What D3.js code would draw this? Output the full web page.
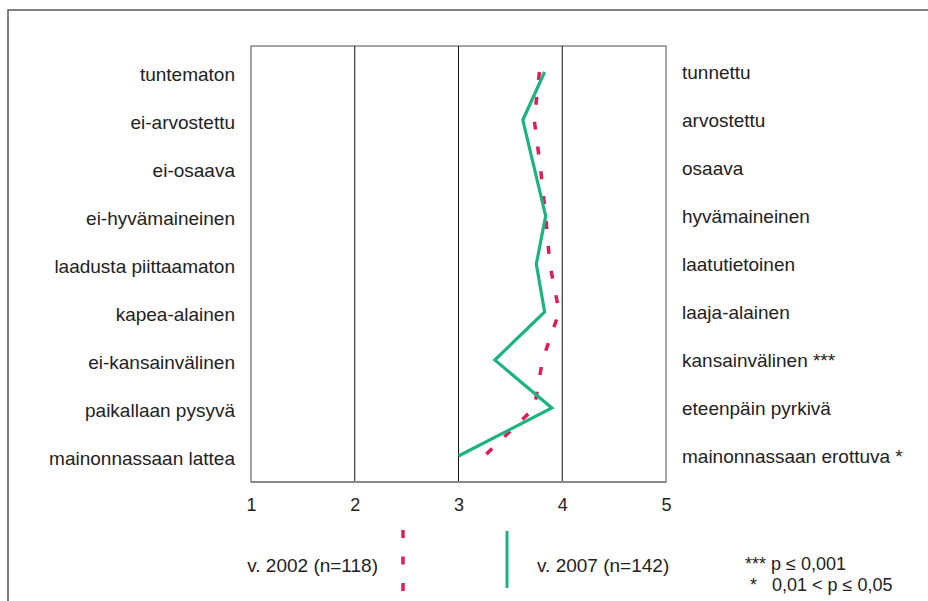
<!DOCTYPE html>
<html>
<head>
<meta charset="utf-8">
<script src="https://cdn.jsdelivr.net/npm/d3@7"></script>
<style>
  html, body { margin: 0; padding: 0; background: #fff; }
  svg { display: block; }
  text { font-family: "Liberation Sans", Arial, Helvetica, sans-serif; fill: #222; }
</style>
</head>
<body>
<svg id="chart" width="928" height="601"></svg>
<script>
// ---- Data ----
const leftLabels = ["tuntematon", "ei-arvostettu", "ei-osaava", "ei-hyvämaineinen", "laadusta piittaamaton",
  "kapea-alainen", "ei-kansainvälinen", "paikallaan pysyvä", "mainonnassaan lattea"];
const rightLabels = ["tunnettu", "arvostettu", "osaava", "hyvämaineinen", "laatutietoinen",
  "laaja-alainen", "kansainvälinen ***", "eteenpäin pyrkivä", "mainonnassaan erottuva *"];
const values2002 = [3.78, 3.73, 3.79, 3.84, 3.88, 3.97, 3.81, 3.73, 3.25];
const values2007 = [3.83, 3.62, 3.73, 3.84, 3.75, 3.83, 3.35, 3.90, 3.00];
const xTicks = [1, 2, 3, 4, 5];
const seriesNames = ["v. 2002 (n=118)", "v. 2007 (n=142)"];
const noteLines = ["*** p ≤ 0,001", " *   0,01 < p ≤ 0,05"];

// ---- Layout ----
const svg = d3.select("#chart");
const plot = { left: 251, right: 666, top: 46, bottom: 482 };
const red = "#de1d5a", green = "#1cb47e";

const x = d3.scaleLinear().domain([1, 5]).range([plot.left, plot.right]);
const y = d3.scalePoint().domain(d3.range(leftLabels.length)).range([plot.top + 26, plot.bottom - 26]);

// outer frame (left & top edges)
svg.append("path")
  .attr("d", `M8,601 L8,10 L928,10`)
  .attr("fill", "none").attr("stroke", "#555").attr("stroke-width", 1.5);

// plot box
svg.append("rect")
  .attr("x", plot.left).attr("y", plot.top)
  .attr("width", plot.right - plot.left).attr("height", plot.bottom - plot.top)
  .attr("fill", "none").attr("stroke", "#888").attr("stroke-width", 1.5);

// inner gridlines
svg.append("g").selectAll("line")
  .data(xTicks.slice(1, -1))
  .join("line")
  .attr("x1", d => x(d)).attr("x2", d => x(d))
  .attr("y1", plot.top).attr("y2", plot.bottom)
  .attr("stroke", "#111").attr("stroke-width", 1);

// bottom edge a bit heavier
svg.append("line")
  .attr("x1", plot.left).attr("x2", plot.right)
  .attr("y1", plot.bottom).attr("y2", plot.bottom)
  .attr("stroke", "#888").attr("stroke-width", 2);

// x axis tick labels
const axis = svg.append("g")
  .attr("transform", `translate(0,${plot.bottom})`)
  .call(d3.axisBottom(x).tickValues(xTicks).tickFormat(d3.format("d")).tickSize(0).tickPadding(16));
axis.select(".domain").remove();
axis.selectAll("text")
  .style("font-family", '"Liberation Sans", Arial, sans-serif')
  .style("font-size", "18px").attr("fill", "#222");

// category labels
svg.append("g").selectAll("text")
  .data(leftLabels)
  .join("text")
  .attr("x", 235).attr("y", (d, i) => y(i) + 2)
  .attr("dy", "0.35em").attr("text-anchor", "end")
  .style("font-size", "19px")
  .text(d => d);

svg.append("g").selectAll("text")
  .data(rightLabels)
  .join("text")
  .attr("x", 682).attr("y", (d, i) => y(i))
  .attr("dy", "0.35em").attr("text-anchor", "start")
  .style("font-size", "19px")
  .text(d => d);

// lines
const line = d3.line().x(d => x(d.v)).y(d => y(d.i));
svg.append("path")
  .datum(values2002.map((v, i) => ({ v, i })))
  .attr("d", line)
  .attr("fill", "none").attr("stroke", red).attr("stroke-width", 3.5)
  .attr("stroke-dasharray", "8,17");

svg.append("path")
  .datum(values2007.map((v, i) => ({ v, i })))
  .attr("d", line)
  .attr("fill", "none").attr("stroke", green).attr("stroke-width", 3.2)
  .attr("stroke-linejoin", "miter");

// legend
const legY = 565;
svg.append("text")
  .attr("x", 378).attr("y", legY).attr("dy", "0.35em").attr("text-anchor", "end")
  .style("font-size", "19px").text(seriesNames[0]);
svg.append("line")
  .attr("x1", 403).attr("x2", 403).attr("y1", 530).attr("y2", 591)
  .attr("stroke", red).attr("stroke-width", 3.5).attr("stroke-dasharray", "8,18.5");

svg.append("line")
  .attr("x1", 507).attr("x2", 507).attr("y1", 531).attr("y2", 588)
  .attr("stroke", green).attr("stroke-width", 3);
svg.append("text")
  .attr("x", 537).attr("y", legY).attr("dy", "0.35em").attr("text-anchor", "start")
  .style("font-size", "19px").text(seriesNames[1]);

svg.append("g").selectAll("text")
  .data(noteLines)
  .join("text")
  .attr("x", 745).attr("y", (d, i) => 570 + i * 21)
  .attr("xml:space", "preserve")
  .style("white-space", "pre")
  .style("font-size", "18px")
  .text(d => d);
</script>
</body>
</html>
